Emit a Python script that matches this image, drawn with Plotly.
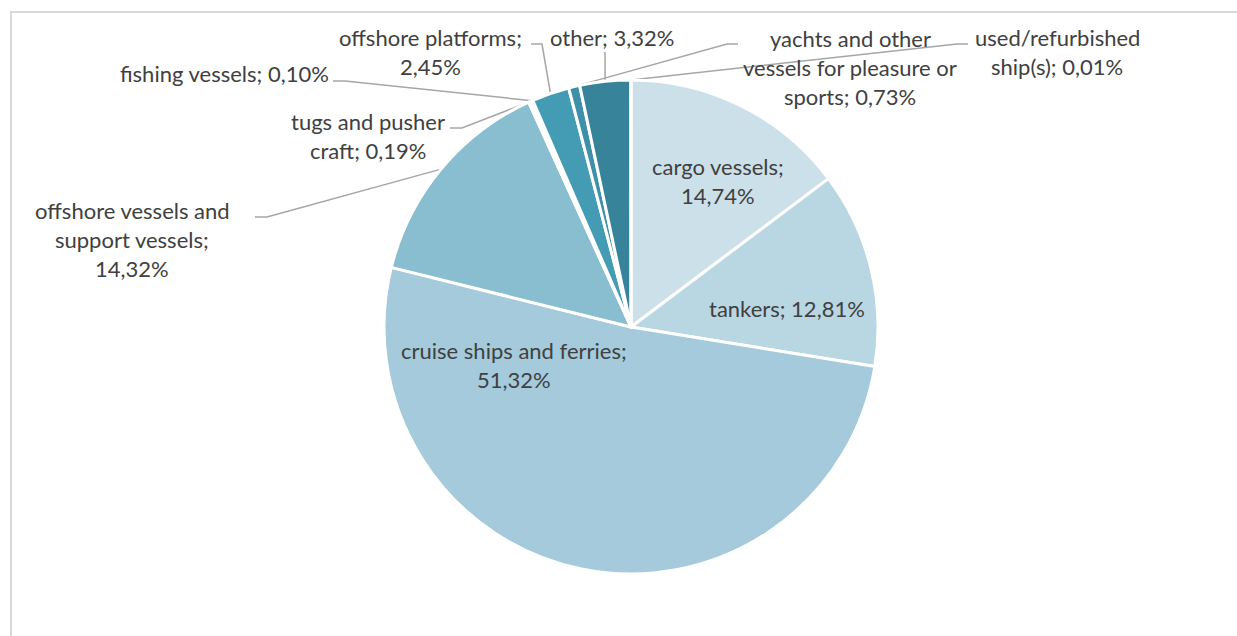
import math
import plotly.graph_objects as go

# Data
categories = [
    "cargo vessels",
    "tankers",
    "cruise ships and ferries",
    "offshore vessels and support vessels",
    "tugs and pusher craft",
    "fishing vessels",
    "offshore platforms",
    "yachts and other vessels for pleasure or sports",
    "other",
    "used/refurbished ship(s)",
]
shares = [14.74, 12.81, 51.32, 14.32, 0.19, 0.10, 2.45, 0.73, 3.32, 0.01]
label_lines = [
    ["cargo vessels;", "{v}"],
    ["tankers; {v}"],
    ["cruise ships and ferries;", "{v}"],
    ["offshore vessels and", "support vessels;", "{v}"],
    ["tugs and pusher", "craft; {v}"],
    ["fishing vessels; {v}"],
    ["offshore platforms;", "{v}"],
    ["yachts and other", "vessels for pleasure or", "sports; {v}"],
    ["other; {v}"],
    ["used/refurbished", "ship(s); {v}"],
]
colors = ["#CCE0E9", "#B9D7E2", "#A4CADB", "#89BED0", "#6FB1C6",
          "#58A6BE", "#449BB4", "#3D90A8", "#37849A", "#2E7185"]

# Layout (pixels)
W, H = 1237, 636
CX, CY, R = 631, 327, 247
LINE_H = 29
FONT = dict(family="Lato, 'Open Sans', sans-serif", size=22, color="#404040")

# label centre, and leader points (elbow, end) for outside labels
label_pos = [(718, 181), (787, 308), (514, 365), (132, 239), (368, 136),
             (224, 73), (430, 52), (850, 67), (612, 37), (1057, 52)]
leaders = [None, None, None,
           [(267, 217), (255, 217)],
           [(462, 128), (450, 128)],
           [(345, 81), (333, 81)],
           [(542, 44), (531, 44)],
           [(727, 44), (738, 44)],
           [(605, 52)],
           [(957, 44), (968, 44)]]


def fmt(v):
    return f"{v:.2f}".replace(".", ",") + "%"


fig = go.Figure()
fig.add_trace(go.Pie(
    labels=categories,
    values=shares,
    sort=False,
    direction="clockwise",
    rotation=0,
    marker=dict(colors=colors, line=dict(color="white", width=3)),
    textinfo="none",
    hoverinfo="label+percent",
    showlegend=False,
    domain=dict(x=[(CX - R) / W, (CX + R) / W], y=[(H - CY - R) / H, (H - CY + R) / H]),
))

# leader lines on a hidden pixel axis
total = sum(shares)
cum = 0
for v, pts in zip(shares, leaders):
    mid = (cum + v / 2) / total * 2 * math.pi
    cum += v
    if pts is None:
        continue
    ex, ey = CX + R * math.sin(mid), CY - R * math.cos(mid)
    xs = [ex] + [p[0] for p in pts]
    ys = [ey] + [p[1] for p in pts]
    fig.add_trace(go.Scatter(x=xs, y=ys, mode="lines", hoverinfo="skip", showlegend=False,
                             line=dict(color="#A6A6A6", width=1.5)))

# labels, one annotation per line
for v, lines, (lx, ly) in zip(shares, label_lines, label_pos):
    n = len(lines)
    for i, line in enumerate(lines):
        y = ly + (i - (n - 1) / 2) * LINE_H
        fig.add_annotation(x=lx, y=y, xref="x", yref="y", text=line.format(v=fmt(v)),
                           showarrow=False, xanchor="center", yanchor="middle", font=FONT)

fig.add_shape(type="rect", xref="x", yref="y", x0=11, y0=12, x1=W + 20, y1=H + 20,
              line=dict(color="#D9D9D9", width=2), layer="below")

fig.update_layout(
    width=W, height=H,
    margin=dict(l=0, r=0, t=0, b=0),
    paper_bgcolor="white", plot_bgcolor="rgba(0,0,0,0)",
    xaxis=dict(range=[0, W], visible=False, fixedrange=True),
    yaxis=dict(range=[H, 0], visible=False, fixedrange=True),
)

fig.write_html("out.html", config={"displayModeBar": False},
               post_script="document.body.style.margin='0';document.body.style.overflow='hidden';")
